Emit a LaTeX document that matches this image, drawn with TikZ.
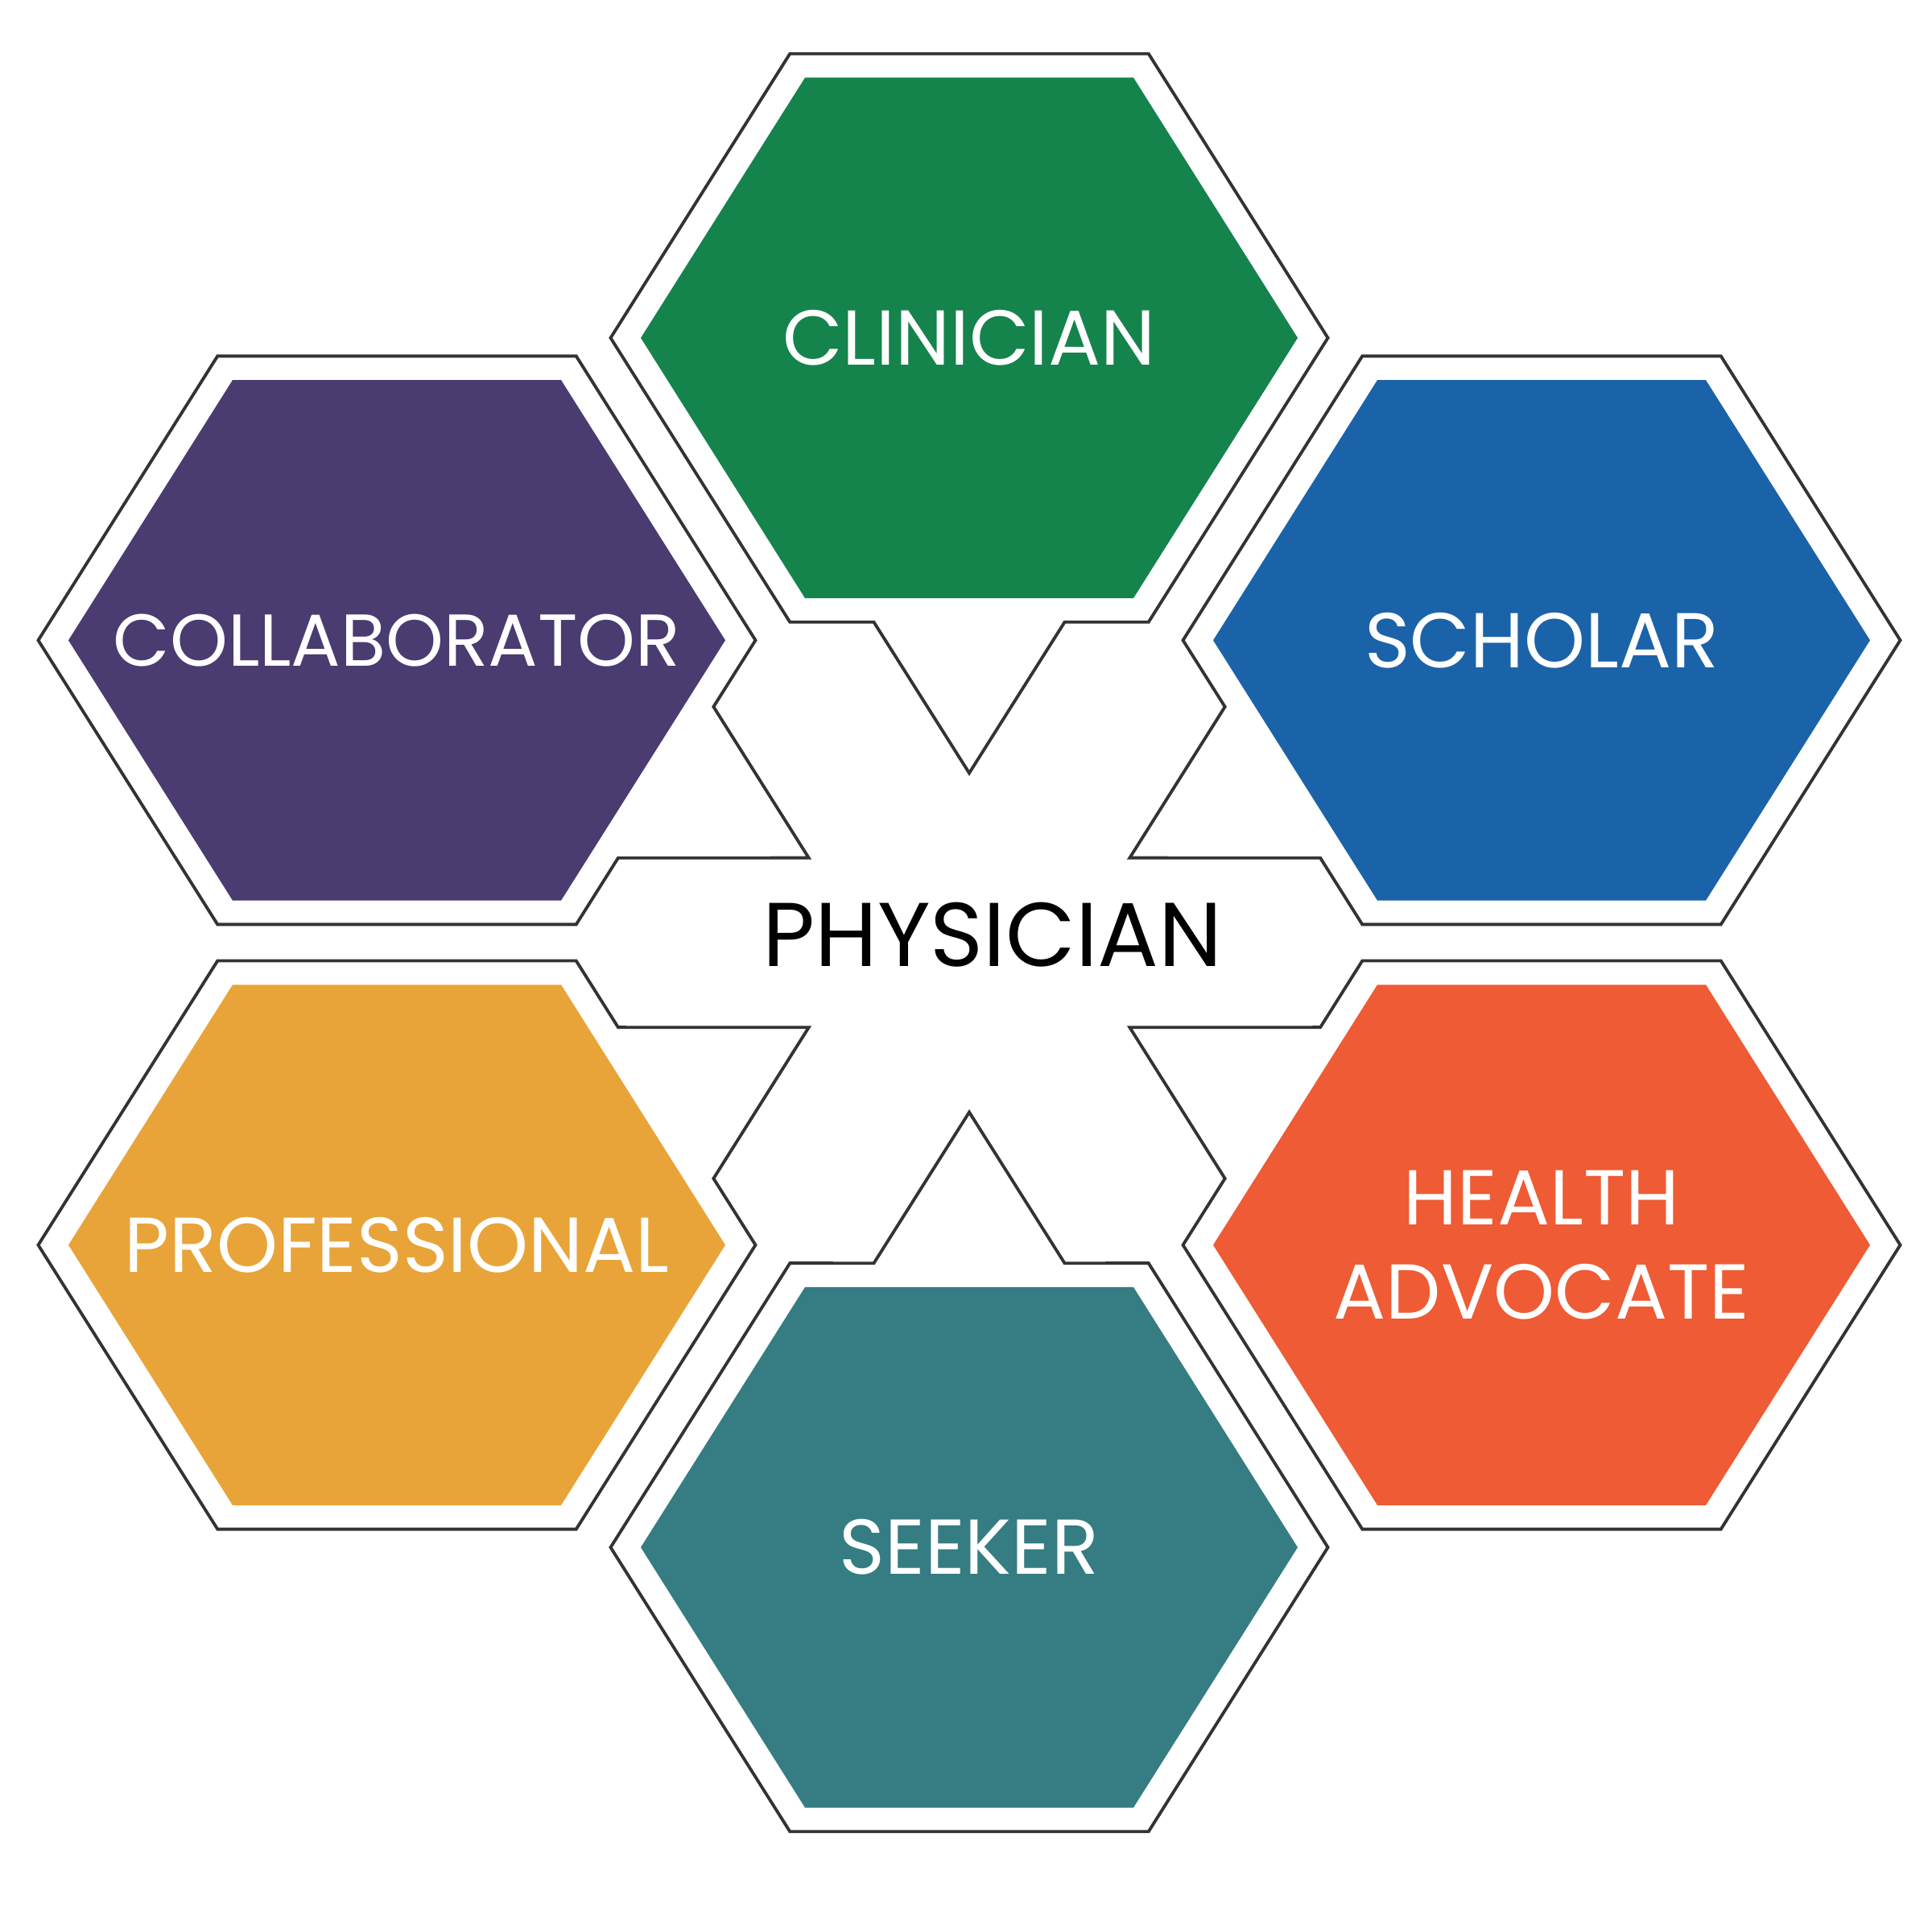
\documentclass[tikz,border=0pt]{standalone}
\usepackage{fontspec}
\setmainfont{Poppins}
\definecolor{clinician}{RGB}{21,131,76}
\definecolor{scholar}{RGB}{27,99,168}
\definecolor{advocate}{RGB}{238,91,52}
\definecolor{seeker}{RGB}{53,125,130}
\definecolor{professional}{RGB}{232,164,57}
\definecolor{collaborator}{RGB}{74,59,112}
\tikzset{
	umriss/.style={line width=1.1pt, draw=black!80, fill=white, line join=miter},
	rolle/.style={text=white, font=\fontsize{27.5}{33.5}\selectfont, align=center, inner sep=0pt},
}
\begin{document}
\begin{tikzpicture}
	\useasboundingbox (0,0) rectangle (24,24);
	% Waben um die Mitte (Winkel, Farbe, Name, Titel)
	\begin{scope}[shift={(12.04,12.29)}, yscale=0.915]
	\foreach \w/\farbe/\name/\titel in {90/clinician/clinician/CLINICIAN,
		30/scholar/scholar/SCHOLAR,
		-30/advocate/advocate/{HEALTH\\ADVOCATE},
		-90/seeker/seeker/SEEKER,
		-150/professional/professional/PROFESSIONAL,
		150/collaborator/collaborator/{\fontsize{26}{33}\selectfont COLLABORATOR}}
	{
		\begin{scope}[rotate=\w-90, shift={(0,8.21)}]
			% Umriss mit Zacke zur Mitte
			\draw[umriss] (0:4.455) -- (60:4.455) -- (120:4.455) -- (180:4.455)
			-- (240:4.455) -- (-1.185,-3.858) -- (0,-5.908) -- (1.185,-3.858)
			-- (300:4.455) -- cycle;
			% farbige Wabe
			\fill[\farbe] (0:4.08) -- (60:4.08) -- (120:4.08) -- (180:4.08)
			-- (240:4.08) -- (300:4.08) -- cycle;
			\node[rolle] (\name) at (0,0) {\titel};
		\end{scope}
	}
	\end{scope}
	% Mitte
	\node[font=\fontsize{32}{38}\selectfont, inner sep=0pt] (physician) at (12.33,12.39) {PHYSICIAN};
\end{tikzpicture}
\end{document}
